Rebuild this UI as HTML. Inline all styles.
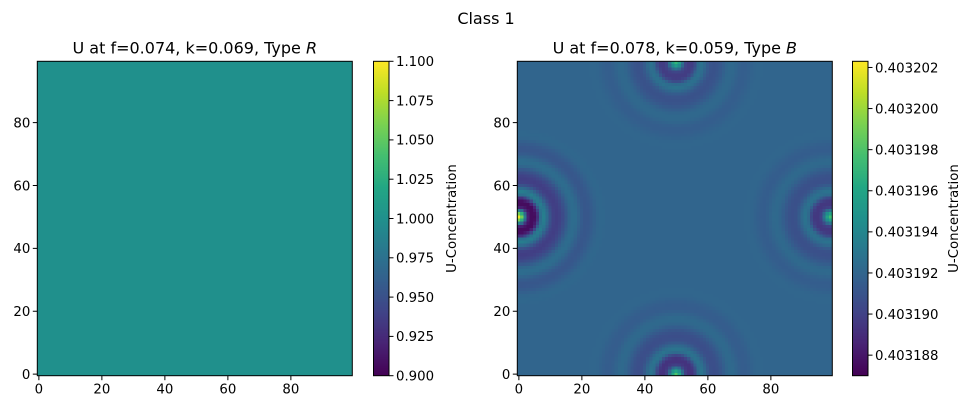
<!DOCTYPE html>
<html><head><meta charset="utf-8"><style>
html,body{margin:0;padding:0;background:#fff;}
#wrap{position:relative;width:973px;height:410px;overflow:hidden;font-family:"DejaVu Sans","Liberation Sans",sans-serif;}
canvas{position:absolute;image-rendering:pixelated;}
svg{position:absolute;left:0;top:0;}
text{font-family:"DejaVu Sans","Liberation Sans",sans-serif;fill:#000;}
</style></head><body>
<div id="wrap">
<canvas id="hm1"></canvas>
<canvas id="hm2"></canvas>
<canvas id="cb1"></canvas>
<canvas id="cb2"></canvas>
<svg id="ov" width="973" height="410"></svg>
</div>
<script>
// ---- data ----
const gridSize = 100;
const leftValue = 1.0;
const leftRange = [0.9, 1.1];
const leftCbTicks = [0.900, 0.925, 0.950, 0.975, 1.000, 1.025, 1.050, 1.075, 1.100];
const rightBackground = 0.403192;
const rightRange = [0.403187, 0.4032023];
const rightCbTicks = [0.403188, 0.403190, 0.403192, 0.403194, 0.403196, 0.403198, 0.403200, 0.403202];
const axisTicks = [0, 20, 40, 60, 80];
// spots: x, y (grid cells), amplitude factor
const spotX = [0, 99, 50, 50];
const spotY = [50, 50, 0, 99];
const spotAmp = [1.0, 0.55, 0.6, 0.5];
// radial profile offsets from background (units of 1e-6), r = 0..30
const radialProfile = [10, 7, 1.5, -3.5, -4.5, -4.5, -3, 0.5, 1.5, 0.5, -1, -2, -2.2, -2, -1.5, -0.8, 0, 0.4, 0.4, 0, -0.5, -0.8, -0.8, -0.6, -0.3, 0, 0.1, 0.1, 0, 0, 0];

// ---- viridis ----
const VIR=[[68,1,84],[72,35,116],[64,67,135],[52,94,141],[41,120,142],[32,144,140],[34,167,132],[68,190,112],[121,209,81],[189,222,38],[253,231,37]];
function vir(t){t=Math.max(0,Math.min(1,t));const p=t*(VIR.length-1);const i=Math.min(VIR.length-2,Math.floor(p));const f=p-i;
return VIR[i].map((c,k)=>Math.round(c+(VIR[i+1][k]-c)*f));}

const L={x0:37.3,y0:61.3,w:315,h:314.4,cbx:373.5,cbw:15.5};
const R={x0:517.3,y0:61.3,w:315,h:314.4,cbx:852.5,cbw:15.5};

function profile(r){if(r>=radialProfile.length-1)return 0;const i=Math.floor(r),f=r-i;return radialProfile[i]*(1-f)+radialProfile[i+1]*f;}

function drawHeat(id,ax,valFn,range){
  const c=document.getElementById(id);c.width=gridSize;c.height=gridSize;
  c.style.left=ax.x0+'px';c.style.top=ax.y0+'px';c.style.width=ax.w+'px';c.style.height=ax.h+'px';
  const ctx=c.getContext('2d');const im=ctx.createImageData(gridSize,gridSize);
  for(let j=0;j<gridSize;j++)for(let i=0;i<gridSize;i++){
    const v=valFn(i,j);const col=vir((v-range[0])/(range[1]-range[0]));
    const row=gridSize-1-j;const k=(row*gridSize+i)*4;
    im.data[k]=col[0];im.data[k+1]=col[1];im.data[k+2]=col[2];im.data[k+3]=255;}
  ctx.putImageData(im,0,0);
}
function drawCb(id,ax){
  const c=document.getElementById(id);c.width=1;c.height=256;
  c.style.left=ax.cbx+'px';c.style.top=ax.y0+'px';c.style.width=ax.cbw+'px';c.style.height=ax.h+'px';
  const ctx=c.getContext('2d');
  for(let k=0;k<256;k++){const col=vir(1-k/255);ctx.fillStyle=`rgb(${col})`;ctx.fillRect(0,k,1,1);}
}
drawHeat('hm1',L,()=>leftValue,leftRange);
drawHeat('hm2',R,(i,j)=>{let v=rightBackground;
  for(let s=0;s<spotX.length;s++){const r=Math.hypot(i-spotX[s],j-spotY[s]);v+=spotAmp[s]*profile(r)*1e-6;}return v;},rightRange);
drawCb('cb1',L);drawCb('cb2',R);

const NS='http://www.w3.org/2000/svg';const svg=document.getElementById('ov');
function el(tag,attrs,txt){const e=document.createElementNS(NS,tag);for(const k in attrs)e.setAttribute(k,attrs[k]);if(txt!==undefined)e.textContent=txt;svg.appendChild(e);return e;}

function axes(ax,title,italic,cbTicks,range,decimals,prefix){
  const sx=v=>ax.x0+(v+0.5)*ax.w/gridSize, sy=v=>ax.y0+ax.h-(v+0.5)*ax.h/gridSize;
  const fr=el('rect',{x:ax.x0,y:ax.y0,width:ax.w,height:ax.h,fill:'none',stroke:'#000','stroke-width':1});
  
  axisTicks.forEach(v=>{
    el('line',{x1:sx(v),x2:sx(v),y1:ax.y0+ax.h,y2:ax.y0+ax.h+4.5,stroke:'#000'});
    const t=el('text',{x:sx(v),y:ax.y0+ax.h+18,'font-size':'13.3','text-anchor':'middle'},String(v));
    
    el('line',{x1:ax.x0-4.5,x2:ax.x0,y1:sy(v),y2:sy(v),stroke:'#000'});
    const u=el('text',{x:ax.x0-7,y:sy(v)+4.8,'font-size':'13.3','text-anchor':'end'},String(v));
    
  });
  const tt=el('text',{x:ax.x0+ax.w/2,y:ax.y0-8,'font-size':'16','text-anchor':'middle'});
  
  tt.appendChild(document.createTextNode(title));
  const it=document.createElementNS(NS,'tspan');it.setAttribute('font-style','italic');it.textContent=italic;tt.appendChild(it);
  const cf=el('rect',{x:ax.cbx,y:ax.y0,width:ax.cbw,height:ax.h,fill:'none',stroke:'#000','stroke-width':1});
  
  const cy=v=>ax.y0+ax.h-(v-range[0])/(range[1]-range[0])*ax.h;
  cbTicks.forEach(v=>{const y=cy(v);const x=ax.cbx+ax.cbw;
    el('line',{x1:x,x2:x+4.5,y1:y,y2:y,stroke:'#000'});
    const t=el('text',{x:x+7,y:y+4.8,'font-size':'13.3'},v.toFixed(decimals));
    });
  const lx=prefix==='left'?456:958;const ly=ax.y0+ax.h/2;
  const lb=el('text',{x:lx,y:ly,'font-size':'13.3','text-anchor':'middle',transform:`rotate(-90 ${lx} ${ly})`},'U-Concentration');
  
}
axes(L,'U at f=0.074, k=0.069, Type ','R',leftCbTicks,leftRange,3,'left');
axes(R,'U at f=0.078, k=0.059, Type ','B',rightCbTicks,rightRange,6,'right');
const st=el('text',{x:486,y:24,'font-size':'16','text-anchor':'middle'},'Class 1');


</script>
</body></html>
